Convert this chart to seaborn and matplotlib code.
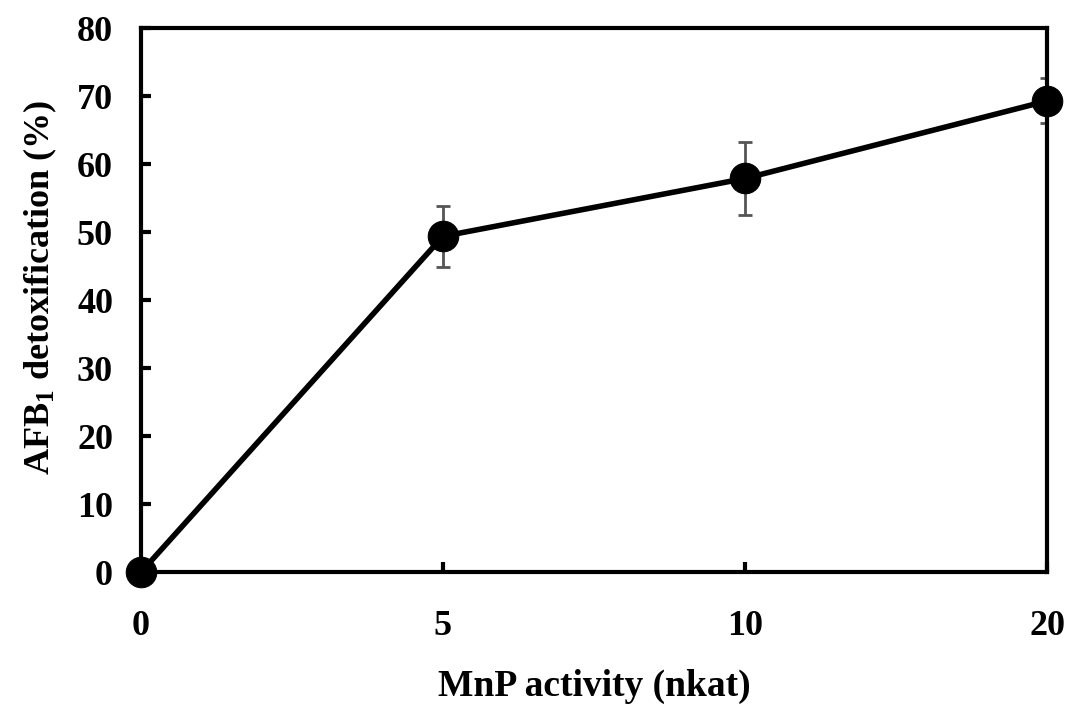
import matplotlib.pyplot as plt
import numpy as np
import pandas as pd
import seaborn as sns

activity = ["0", "5", "10", "20"]
detox = [0.0, 49.4, 57.9, 69.3]
detox_err = [0.0, 4.5, 5.3, 3.3]

sns.set_style("white")
plt.rcParams["font.family"] = ["Liberation Serif", "DejaVu Serif"]
plt.rcParams["font.weight"] = "bold"
plt.rcParams["text.color"] = "black"
plt.rcParams["axes.labelcolor"] = "black"
plt.rcParams["xtick.color"] = "black"
plt.rcParams["ytick.color"] = "black"
plt.rcParams["mathtext.fontset"] = "custom"
plt.rcParams["mathtext.rm"] = "Liberation Serif:bold"
plt.rcParams["mathtext.default"] = "rm"

df = pd.DataFrame({"activity": activity, "detox": detox, "err": detox_err})

fig, ax = plt.subplots(figsize=(10.75, 7.04), dpi=100)
pos = np.arange(len(activity))
ax.errorbar(pos, df["detox"], yerr=df["err"], fmt="none", ecolor="#555555",
            elinewidth=2, capsize=5, capthick=2, zorder=2)
sns.lineplot(data=df, x="activity", y="detox", ax=ax, color="black",
             linewidth=4, marker="o", markersize=22, markeredgecolor="black",
             sort=False, zorder=3, clip_on=False)

ax.set_xlim(0, len(activity) - 1)
ax.set_ylim(0, 80)
ax.set_yticks(np.arange(0, 81, 10))
ax.set_xlabel("MnP activity (nkat)", fontsize=27, fontweight="bold", labelpad=19)
ax.set_ylabel(r"AFB$_1$ detoxification (%)", fontsize=26, fontweight="bold", labelpad=13)
ax.yaxis.label.set_y(0.524)
ax.tick_params(axis="both", direction="in", length=7, width=3, labelsize=26,
               bottom=True, left=True, top=False, right=False)
ax.tick_params(axis="x", pad=27)
ax.tick_params(axis="y", pad=20)
for lab in ax.get_xticklabels() + ax.get_yticklabels():
    lab.set_fontweight("bold")
for sp in ax.spines.values():
    sp.set_linewidth(3)
    sp.set_color("black")

fig.subplots_adjust(left=0.131, right=0.974, top=0.96, bottom=0.187)
fig.savefig("out.png", dpi=100)
plt.close(fig)
